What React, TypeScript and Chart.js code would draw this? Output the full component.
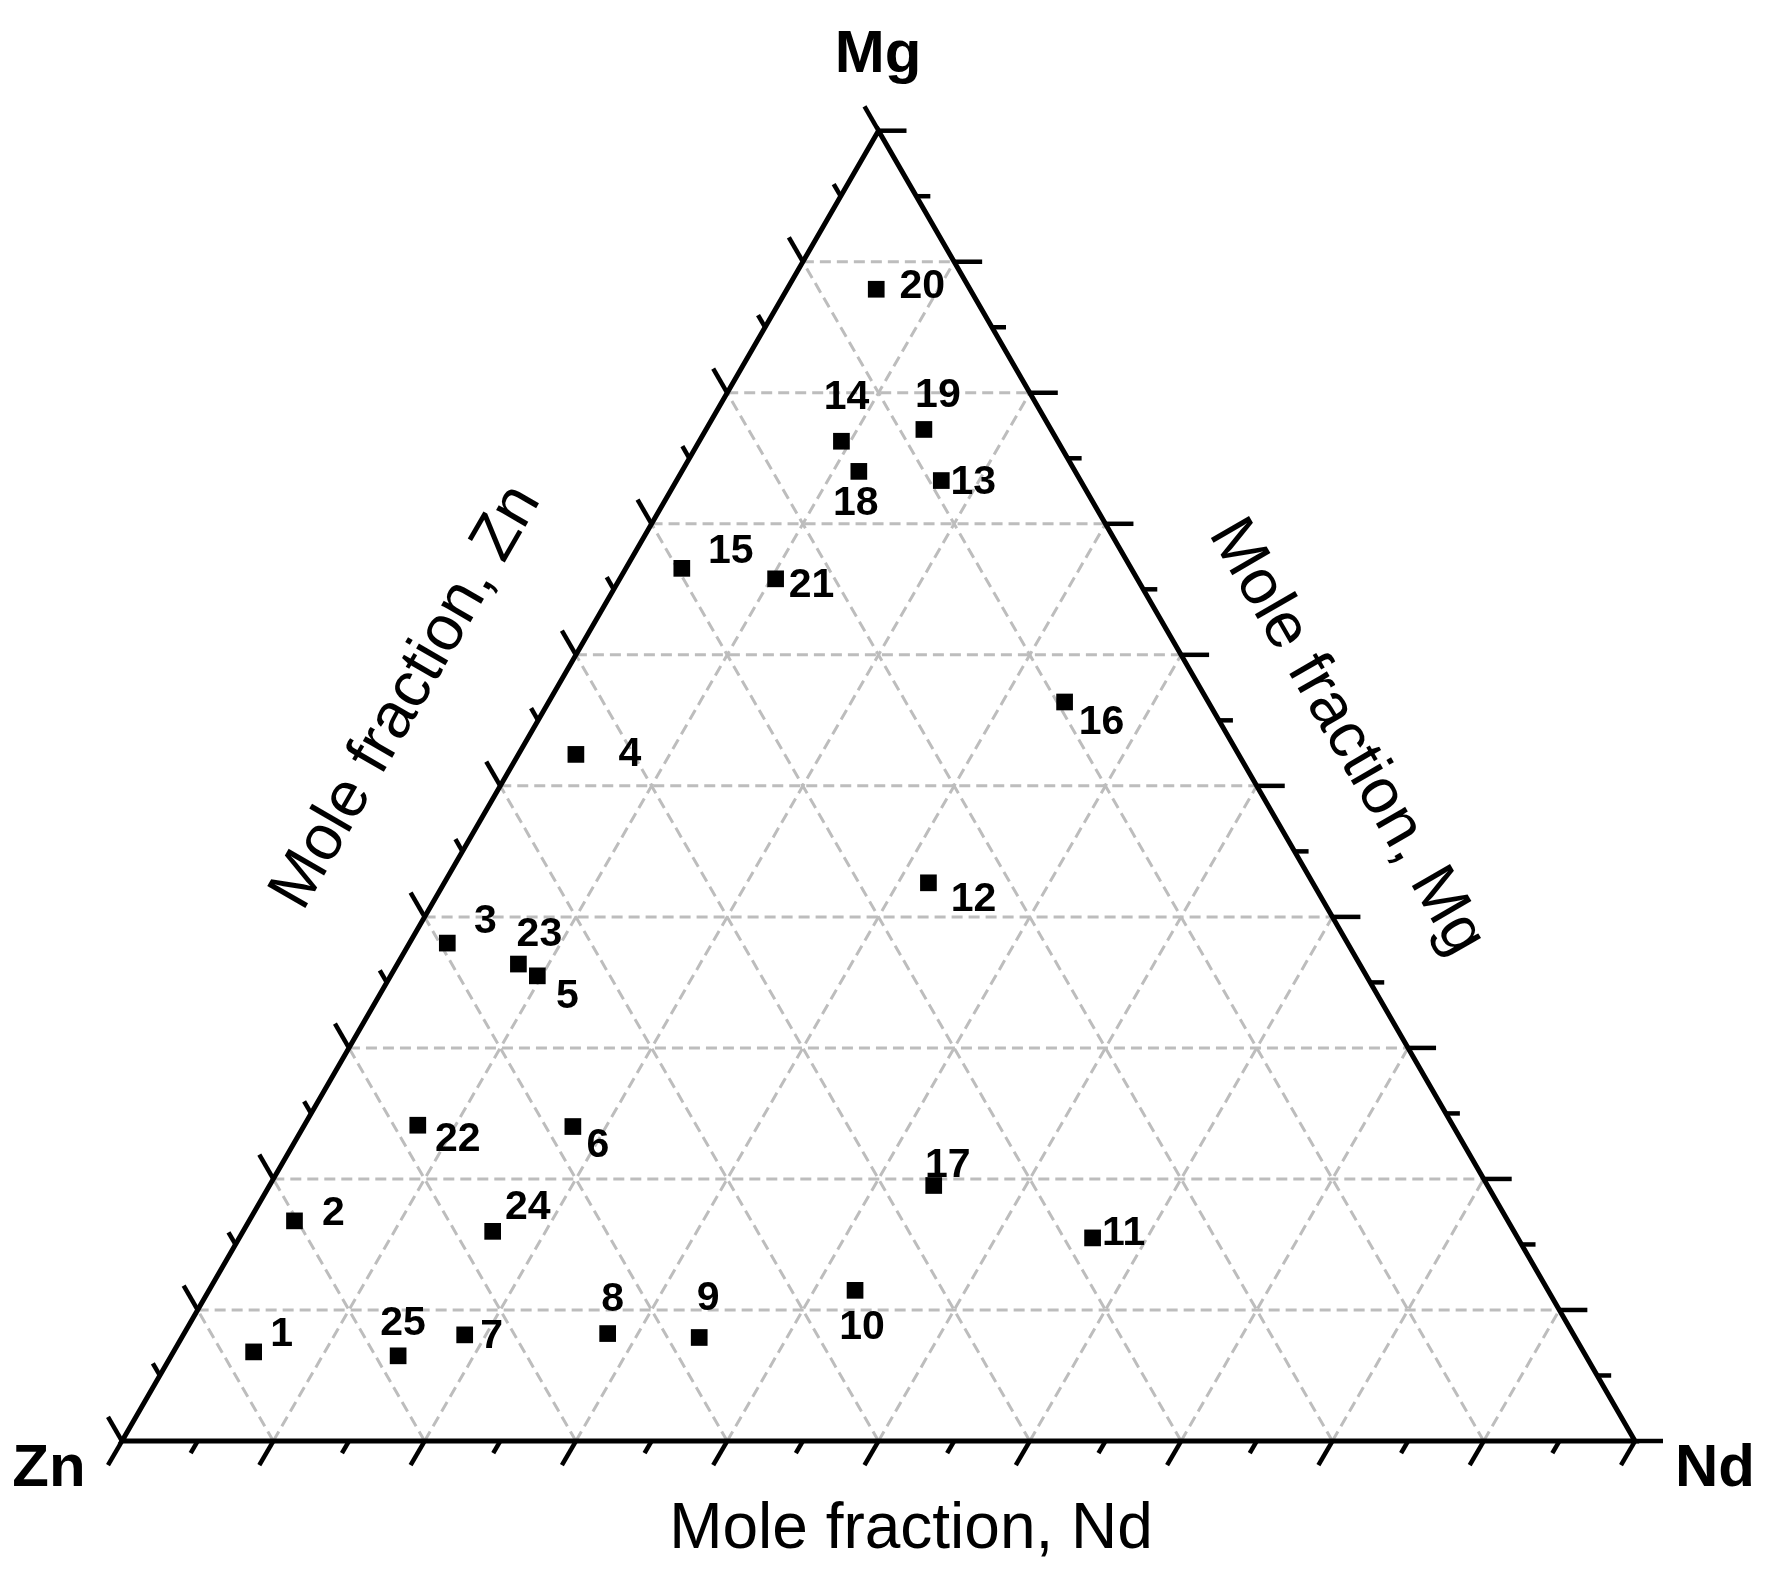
import React, { useEffect, useRef } from "react";
import { Chart, registerables } from "chart.js";

Chart.register(...registerables);

// ---- Data (mole fractions) ----
const sampleLabels = [
  "1", "2", "3", "4", "5", "6", "7", "8", "9", "10",
  "11", "12", "13", "14", "15", "16", "17", "18", "19", "20",
  "21", "22", "23", "24", "25",
];
const ndFraction = [
  0.053, 0.030, 0.025, 0.038, 0.097, 0.178, 0.186, 0.280, 0.342, 0.427,
  0.564, 0.320, 0.175, 0.094, 0.037, 0.341, 0.439, 0.117, 0.144, 0.059,
  0.103, 0.075, 0.080, 0.165, 0.150,
];
const mgFraction = [
  0.068, 0.168, 0.380, 0.524, 0.355, 0.240, 0.081, 0.082, 0.079, 0.115,
  0.155, 0.426, 0.733, 0.763, 0.666, 0.564, 0.195, 0.740, 0.772, 0.879,
  0.658, 0.241, 0.364, 0.160, 0.065,
];
const znFraction = [
  0.879, 0.802, 0.595, 0.438, 0.548, 0.582, 0.733, 0.638, 0.579, 0.458,
  0.281, 0.254, 0.092, 0.143, 0.297, 0.095, 0.366, 0.143, 0.084, 0.062,
  0.239, 0.684, 0.556, 0.675, 0.785,
];
const gridFractions = [0.1, 0.2, 0.3, 0.4, 0.5, 0.6, 0.7, 0.8, 0.9];
const tickFractions = [
  0, 0.05, 0.1, 0.15, 0.2, 0.25, 0.3, 0.35, 0.4, 0.45, 0.5,
  0.55, 0.6, 0.65, 0.7, 0.75, 0.8, 0.85, 0.9, 0.95, 1,
];
const cornerNames = ["Zn", "Nd", "Mg"];
const axisTitles = ["Mole fraction, Nd", "Mole fraction, Zn", "Mole fraction, Mg"];

// ---- Layout / style (label offsets from their point, px) ----
const labelOffsets: [number, number][] = [
  [28, -21], [39, -11], [38, -25], [54, -3], [30, 17],
  [25, 16], [27, -2], [5, -37], [9, -42], [7, 34],
  [31, -8], [45, 14], [32, -1], [5, -47], [49, -20],
  [37, 17], [14, -23], [-3, 29], [14, -37], [46, -6],
  [36, 3], [40, 11], [21, -33], [35, -27], [5, -36],
];

const W = 1772;
const H = 1576;
const SIDE = 1513; // px per unit
const ORIGIN_X = 122;
const ORIGIN_Y = 1441;
const FONT = '"Liberation Sans", Arial, Helvetica, sans-serif';
const SQ3 = Math.sqrt(3) / 2;

export default function App() {
  const ref = useRef<HTMLCanvasElement | null>(null);

  useEffect(() => {
    const canvas = ref.current;
    if (!canvas) return;

    const points = sampleLabels.map((_, i) => {
      const s = ndFraction[i] + mgFraction[i] + znFraction[i];
      const nd = ndFraction[i] / s;
      const mg = mgFraction[i] / s;
      return { x: nd + mg / 2, y: mg * SQ3 };
    });

    const ternaryPlugin = {
      id: "ternaryFrame",
      beforeDatasetsDraw(chart: any) {
        const xs = chart.scales.x;
        const ys = chart.scales.y;
        const P = (nd: number, mg: number): [number, number] => [
          xs.getPixelForValue(nd + mg / 2),
          ys.getPixelForValue(mg * SQ3),
        ];
        const ctx: CanvasRenderingContext2D = chart.ctx;
        ctx.save();

        // dashed grid
        ctx.strokeStyle = "#bdbdbd";
        ctx.lineWidth = 3;
        ctx.setLineDash([11, 6]);
        const seg = (a: [number, number], b: [number, number]) => {
          ctx.beginPath();
          ctx.moveTo(a[0], a[1]);
          ctx.lineTo(b[0], b[1]);
          ctx.stroke();
        };
        for (const f of gridFractions) {
          seg(P(0, f), P(1 - f, f)); // Mg = f
          seg(P(f, 0), P(f, 1 - f)); // Nd = f
          seg(P(1 - f, 0), P(0, 1 - f)); // Zn = f
        }
        ctx.setLineDash([]);

        // triangle
        ctx.strokeStyle = "#000";
        ctx.lineWidth = 5;
        ctx.lineJoin = "miter";
        const a = P(0, 0), b = P(1, 0), c = P(0, 1);
        ctx.beginPath();
        ctx.moveTo(a[0], a[1]);
        ctx.lineTo(b[0], b[1]);
        ctx.lineTo(c[0], c[1]);
        ctx.closePath();
        ctx.stroke();

        // ticks
        ctx.lineWidth = 4.5;
        ctx.lineCap = "butt";
        const tick = (p: [number, number], dx: number, dy: number, len: number) => {
          ctx.beginPath();
          ctx.moveTo(p[0], p[1]);
          ctx.lineTo(p[0] + dx * len, p[1] + dy * len);
          ctx.stroke();
        };
        for (const t of tickFractions) {
          const major = Math.round(t * 20) % 2 === 0;
          const len = major ? 28 : 14;
          tick(P(t, 0), -0.5, SQ3, len); // bottom (Nd)
          tick(P(1 - t, t), 1, 0, len); // right (Mg)
          tick(P(0, 1 - t), -0.5, -SQ3, len); // left (Zn)
        }
        ctx.restore();
      },
      afterDatasetsDraw(chart: any) {
        const ctx: CanvasRenderingContext2D = chart.ctx;
        const meta = chart.getDatasetMeta(0);
        ctx.save();
        ctx.fillStyle = "#000";
        ctx.textAlign = "center";
        ctx.textBaseline = "alphabetic";

        // point labels
        const lf = 41;
        ctx.font = `bold ${lf}px ${FONT}`;
        meta.data.forEach((el: any, i: number) => {
          const [dx, dy] = labelOffsets[i];
          ctx.fillText(sampleLabels[i], el.x + dx, el.y + dy + lf * 0.358);
        });

        // corner labels
        ctx.font = `bold 60px ${FONT}`;
        ctx.fillText(cornerNames[0], 49, 1486);
        ctx.fillText(cornerNames[1], 1715, 1486);
        ctx.fillText(cornerNames[2], 878, 72);

        // axis titles
        ctx.font = `64px ${FONT}`;
        ctx.fillText(axisTitles[0], 911, 1548);

        ctx.save();
        ctx.translate(422, 706);
        ctx.rotate(-Math.PI / 3);
        ctx.fillText(axisTitles[1], 0, 0);
        ctx.restore();

        ctx.save();
        ctx.translate(1331, 746);
        ctx.rotate(Math.PI / 3);
        ctx.fillText(axisTitles[2], 0, 0);
        ctx.restore();

        ctx.restore();
      },
    };

    const chart = new Chart(canvas, {
      type: "scatter",
      data: {
        datasets: [
          {
            label: "Samples",
            data: points,
            pointStyle: "rect",
            pointRadius: 11.8,
            pointHoverRadius: 11.8,
            backgroundColor: "#000",
            borderColor: "#000",
            borderWidth: 0,
            clip: false,
          },
        ],
      },
      options: {
        animation: false,
        responsive: false,
        maintainAspectRatio: false,
        devicePixelRatio: 1,
        layout: { padding: 0, autoPadding: false },
        events: [],
        plugins: {
          legend: { display: false },
          tooltip: { enabled: false },
        },
        scales: {
          x: {
            type: "linear",
            display: false,
            min: -ORIGIN_X / SIDE,
            max: (W - ORIGIN_X) / SIDE,
          },
          y: {
            type: "linear",
            display: false,
            min: -(H - ORIGIN_Y) / SIDE,
            max: ORIGIN_Y / SIDE,
          },
        },
      },
      plugins: [ternaryPlugin],
    });

    return () => {
      chart.destroy();
    };
  }, []);

  return (
    <div style={{ position: "absolute", left: 0, top: 0, width: W, height: H, background: "#fff" }}>
      <canvas ref={ref} width={W} height={H} style={{ display: "block", width: W, height: H }} />
    </div>
  );
}
